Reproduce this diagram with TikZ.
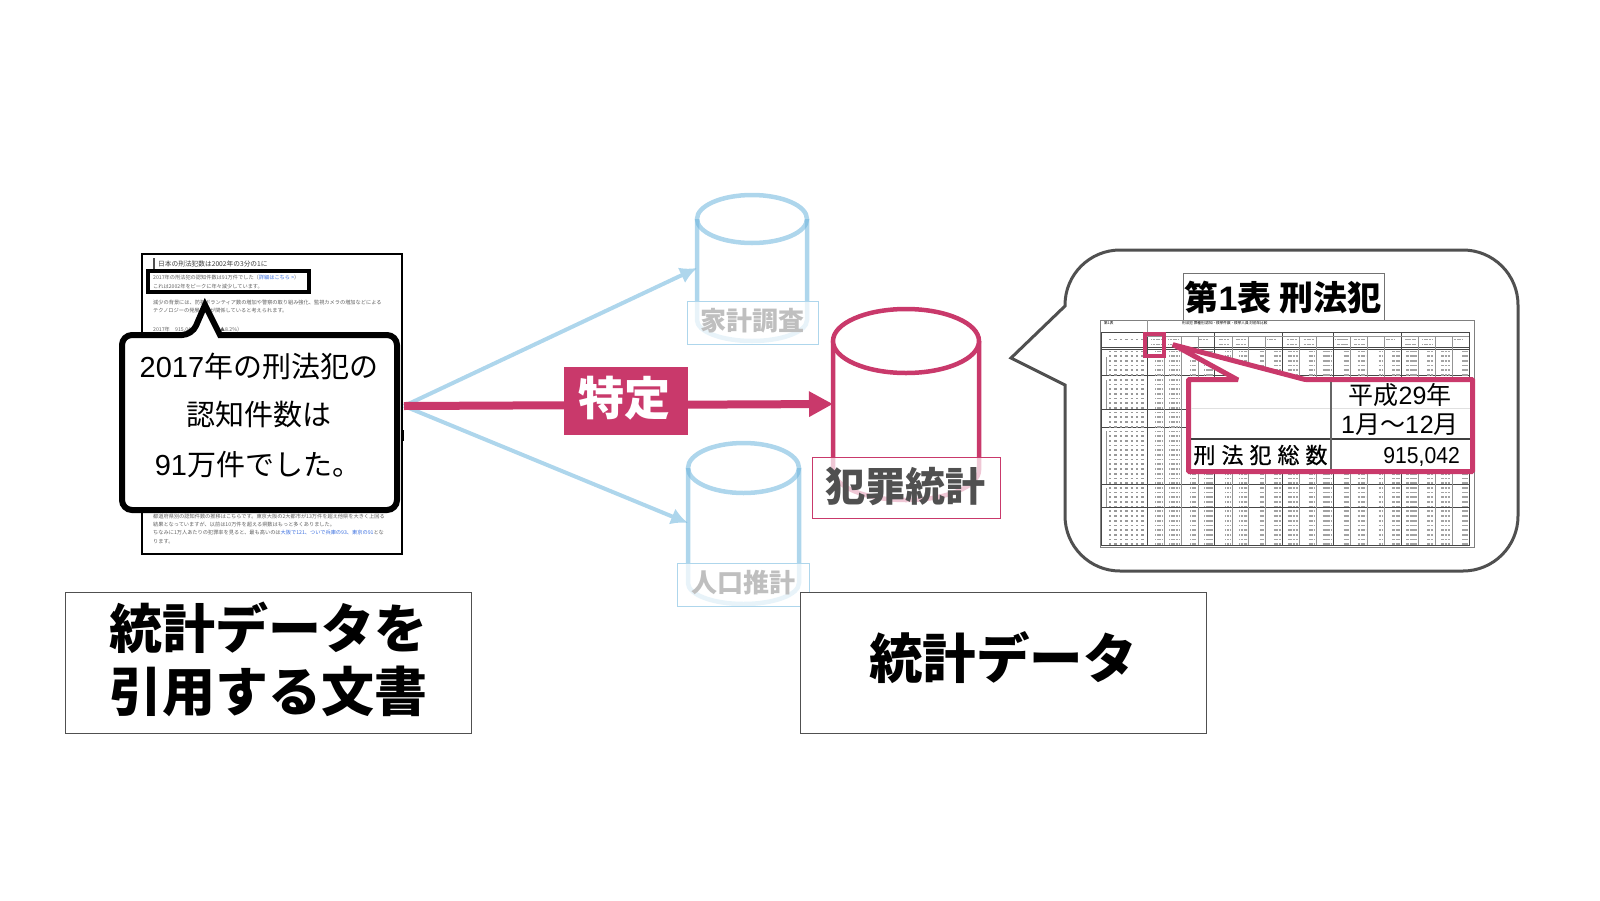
\documentclass[tikz,border=0pt]{standalone}
\usepackage{fontspec}
\setmainfont{Noto Sans CJK JP}
\newfontfamily\lat{Liberation Sans}
\newfontfamily\latn[FakeStretch=0.92]{Liberation Sans}
\newfontfamily\cjkm[FakeBold=0.8]{Noto Sans CJK JP}
\usetikzlibrary{arrows.meta}
\definecolor{pinkc}{HTML}{C9396B}
\definecolor{bluea}{HTML}{AED6EC}
\definecolor{cylb}{HTML}{6CB4DC}
\definecolor{ink}{HTML}{505050}
\definecolor{linkb}{HTML}{3A6FE0}
\newcommand{\fs}[1]{\fontsize{#1pt}{#1pt}\selectfont}
\tikzset{
 txt/.style={inner sep=0pt,outer sep=0pt,anchor=center},
 doctxt/.style={inner sep=0pt,anchor=west,text=black!62,font=\fs{5.2}},
 labelbox/.style={draw=#1,line width=1pt,fill=white,fill opacity=0.72,text opacity=1,inner sep=0pt},
 capbox/.style={draw=ink,line width=1pt,fill=white,inner sep=0pt},
 bluearrow/.style={draw=bluea,line width=4pt,-{Latex[length=17pt,width=17pt]}},
 pinkarrow/.style={draw=pinkc,line width=8pt,-{Triangle[length=24pt,width=24pt]}},
 cellmark/.style={black!36,line width=1.7pt,dash pattern=on 1.3pt off 0.3pt},
 labmark/.style={black!40,line width=1.7pt,dash pattern=on 2.4pt off 3pt},
 tline/.style={black!42,line width=0.5pt},
 theavy/.style={black!72,line width=0.8pt},
 cylblue/.style={draw=cylb,draw opacity=0.55,line width=4.5pt},
 cylpink/.style={draw=pinkc,line width=4.5pt,fill=white}
}
\begin{document}
\begin{tikzpicture}[x=1pt,y=-1pt]
\useasboundingbox (0,0) rectangle (1600,900);
% --- citing document page
\node[draw=black,line width=2pt,fill=white,minimum width=260pt,minimum height=300pt,inner sep=0pt,anchor=north west] (page) at (141,253) {};
\draw[black,line width=3pt] (402,430) -- (402,441);
\draw[ink,line width=1.6pt] (154,258) -- (154,269);
\node[doctxt,font=\fs{6.7},text=black!75] (dhead) at (158,264) {日本の刑法犯数は2002年の3分の1に};
\node[doctxt] (d1) at (153,278) {2017年の刑法犯の認知件数は91万件でした（\textcolor{linkb}{詳細はこちら >}）};
\node[doctxt] (d2) at (153,287) {これは2002年をピークに年々減少しています。};
\node[doctxt] (d4) at (153,303) {減少の背景には、防犯ボランティア数の増加や警察の取り組み強化、監視カメラの増加などによる};
\node[doctxt] (d5) at (153,311) {テクノロジーの発展などが関係していると考えられます。};
\node[doctxt] (d6) at (153,330) {2017年　915,042件（前年比▲8.2\%）};
\node[doctxt] (d7) at (153,517) {都道府県別の認知件数の推移はこちらです。東京大阪の2大都市が13万件を超え他県を大きく上回る};
\node[doctxt] (d8) at (153,525) {結果となっていますが、以前は10万件を超える県数はもっと多くありました。};
\node[doctxt] (d9) at (153,533) {ちなみに1万人あたりの犯罪率を見ると、最も高いのは\textcolor{linkb}{大阪で121、ついで兵庫の93、東京の91}とな};
\node[doctxt] (d10) at (153,542) {ります。};
\draw[black,line width=4pt] (148,271) rectangle (309,292);
% --- callout
\draw[black,line width=6pt,fill=white,rounded corners=10pt]
  (122,335) -- (192,335) [sharp corners] -- (205,305) -- (220,335) [rounded corners=10pt] -- (397,335) -- (397,510) -- (122,510) -- cycle;
\node[txt,font=\fs{29}] (c1) at (259,366) {{\lat 2017}年の刑法犯の};
\node[txt,font=\fs{29}] (c2) at (259,415) {認知件数は};
\node[txt,font=\fs{29}] (c3) at (258,465) {{\lat 91}万件でした。};
% --- connectors
\coordinate (src) at (404,406);
\coordinate (hhL) at (697,268);
\coordinate (popL) at (688,523);
\coordinate (crimeL) at (833,404);
\draw[bluearrow] (src) -- (hhL);
\draw[bluearrow] (src) -- (popL);
\draw[pinkarrow] (src) -- (crimeL);
\node[fill=pinkc,minimum width=124pt,minimum height=68pt,inner sep=0pt] (spec) at (626,401) {};
\node[txt,text=white,font=\fs{46}\bfseries] (spect) at (624,398) {特定};
% --- household cylinder
\draw[cylblue] (752,219) ellipse [x radius=55pt,y radius=24pt];
\draw[cylblue] (697,219) -- (697,320) arc [start angle=180,end angle=360,x radius=55pt,y radius=21pt] -- (807,219);
\node[labelbox=bluea,minimum width=131pt,minimum height=43pt] (hhbox) at (752.5,322.5) {};
\node[txt,text=black!25,font=\fs{26}\bfseries] (hh) at (752,321) {家計調査};
% --- population cylinder
\draw[cylblue] (743.5,468) ellipse [x radius=55.5pt,y radius=25pt];
\draw[cylblue] (688,468) -- (688,583) arc [start angle=180,end angle=360,x radius=55.5pt,y radius=21pt] -- (799,468);
\node[labelbox=bluea,minimum width=132pt,minimum height=43pt] (popbox) at (743,584.5) {};
\node[txt,text=black!25,font=\fs{26}\bfseries] (pop) at (743.5,583) {人口推計};
% --- crime cylinder
\draw[cylpink] (833,341) -- (833,470) arc [start angle=180,end angle=360,x radius=73pt,y radius=30pt] -- (979,341);
\draw[cylpink] (906,341) ellipse [x radius=73pt,y radius=32pt];
\node[labelbox=pinkc,minimum width=188pt,minimum height=61pt] (crimebox) at (906.5,487.5) {};
\node[txt,text=ink,font=\fs{40}\bfseries] (crime) at (905.5,486) {犯罪統計};
% --- speech bubble
\draw[ink,line width=3pt,fill=white,line join=miter]
  (1065,306) -- (1065,305) arc [start angle=180,end angle=90,radius=55pt]
  -- (1463,250) arc [start angle=90,end angle=0,radius=55pt]
  -- (1518,516) arc [start angle=0,end angle=-90,radius=55pt]
  -- (1120,571) arc [start angle=-90,end angle=-180,radius=55pt]
  -- (1065,385) -- (1011,358) -- cycle;
% --- table
\node[draw=black!55,line width=1pt,fill=white,minimum width=201pt,minimum height=47pt,inner sep=0pt,anchor=north west] (ttlbox) at (1183,273) {};
\node[txt,font=\fs{34}\bfseries] (ttl) at (1283,297) {第{\lat\bfseries 1}表 刑法犯};
\node[draw=black!50,line width=0.9pt,fill=white,minimum width=374pt,minimum height=227pt,inner sep=0pt,anchor=north west] (tbl) at (1100,320) {};
\node[doctxt,font=\fs{3.6},text=black] (t1) at (1104,323) {第1表};
\node[doctxt,font=\fs{3.6},text=black] (t2) at (1182,323) {刑法犯 罪種別 認知・検挙件数・検挙人員 対前年比較};
\draw[tline] (1147,320) -- (1147,332);
\draw[theavy] (1101,332) rectangle (1469,545);
\draw[theavy] (1101,347) -- (1469,347) (1101,349.2) -- (1469,349.2);
\foreach \yy in {375,409,427,484,507}{\draw[theavy] (1101,\yy) -- (1469,\yy);}
\foreach \xx in {1147,1214.8,1282.6,1333.4,1401}{\draw[theavy] (\xx,332) -- (\xx,545);}
\foreach \k in {1,2,3,5,6,7,9,10,12,13,14,16,17,18}{
  \pgfmathsetmacro{\xx}{1147+16.95*\k}
  \draw[tline] (\xx,336) -- (\xx,545);
}
\draw[tline] (1147,336) -- (1469,336);
\draw[tline] (1106,357) -- (1106,375) (1106,380) -- (1106,409) (1106,431) -- (1106,484) (1106,488) -- (1106,507);
\foreach \n in {0,...,41}{
  \pgfmathsetmacro{\yy}{351.5+4.7*\n}
  \draw[labmark] (1109,\yy) -- (1144,\yy);
  \foreach \k in {1,...,19}{
    \pgfmathsetmacro{\xx}{1147+16.95*\k}
    \pgfmathsetmacro{\ln}{4+mod(\n*7+\k*3,7)}
    \draw[cellmark] (\xx-1.8-\ln,\yy) -- (\xx-1.8,\yy);
  }
}
\foreach \k in {1,2,5,6,9,10,12,13,16,17}{
  \pgfmathsetmacro{\xx}{1147+16.95*\k}
  \draw[cellmark,line width=1.1pt] (\xx-13,339.5) -- (\xx-3,339.5);
  \draw[cellmark,line width=1.1pt] (\xx-13,344.5) -- (\xx-3,344.5);
}
\foreach \k in {3.5,7.5,11.5,14.5,18.5}{
  \pgfmathsetmacro{\xx}{1147+16.95*\k}
  \draw[cellmark,line width=1.1pt] (\xx-7,339.5) -- (\xx+2,339.5);
}
\draw[labmark] (1109,339.5) -- (1144,339.5);
% --- magnified cutout
\draw[pinkc,line width=4.5pt] (1145,334) rectangle (1164,356);
\draw[pinkc,line width=5pt,fill=white,rounded corners=1pt]
  (1188.5,379.5) -- (1237,379.5) -- (1174,345) -- (1305,379.5) -- (1472.5,379.5) -- (1472.5,471.5) -- (1188.5,471.5) -- cycle;
\draw[black!12,line width=1pt] (1191,408) -- (1470,408);
\draw[black!75,line width=1.5pt] (1191,439) -- (1470,439);
\draw[black!60,line width=1.8pt] (1331,382) -- (1331,469);
\node[txt,font=\fs{25}] (m1) at (1400,395) {平成{\lat 29}年};
\node[txt,font=\fs{25}] (m2) at (1400,425) {{\lat 1}月〜{\lat 1\kern1pt 2}月};
\node[txt,font=\cjkm\fs{22}] (m3) at (1260.5,455) {刑\kern6pt 法\kern6pt 犯\kern6pt 総\kern6pt 数};
\node[inner sep=0pt,anchor=east,font=\latn\fs{23}] (m4) at (1460,457) {915,042};
% --- captions
\node[capbox,minimum width=406pt,minimum height=141pt] (capa) at (268.5,662.5) {};
\node[txt,font=\fs{53}\bfseries] (capa1) at (268,628) {統計データを};
\node[txt,font=\fs{53}\bfseries] (capa2) at (268,691) {引用する文書};
\node[capbox,minimum width=406pt,minimum height=141pt] (capb) at (1003,662.5) {};
\node[txt,font=\fs{53.5}\bfseries] (capb1) at (1003,658) {統計データ};
\end{tikzpicture}
\end{document}
